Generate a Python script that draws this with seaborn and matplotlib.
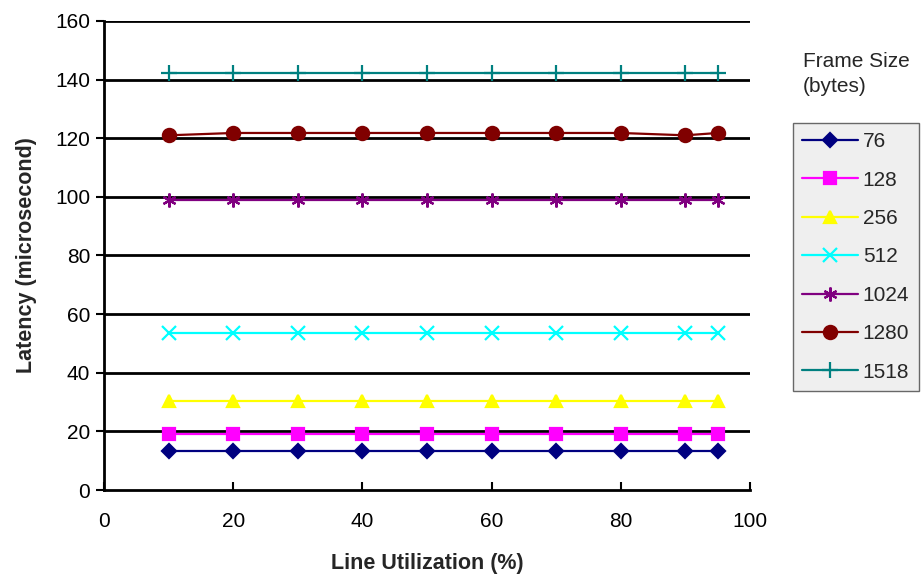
import matplotlib
matplotlib.use("Agg")
import matplotlib.pyplot as plt
import seaborn as sns
import pandas as pd

# Line utilization (%) at which latency was measured
utilization = [10, 20, 30, 40, 50, 60, 70, 80, 90, 95]

# Frame sizes (bytes) and measured latency (microseconds)
frame_sizes = ["76", "128", "256", "512", "1024", "1280", "1518"]
lat_76 = [13.4, 13.4, 13.4, 13.4, 13.4, 13.4, 13.4, 13.4, 13.4, 13.4]
lat_128 = [19.1, 19.1, 19.1, 19.1, 19.1, 19.1, 19.1, 19.1, 19.1, 19.1]
lat_256 = [30.4, 30.4, 30.4, 30.4, 30.4, 30.4, 30.4, 30.4, 30.4, 30.4]
lat_512 = [53.7, 53.7, 53.7, 53.7, 53.7, 53.7, 53.7, 53.7, 53.7, 53.7]
lat_1024 = [98.8, 98.8, 98.8, 98.8, 98.8, 98.8, 98.8, 98.8, 98.8, 98.8]
lat_1280 = [121.0, 121.8, 121.8, 121.8, 121.8, 121.8, 121.8, 121.8, 121.0, 121.8]
lat_1518 = [142.2, 142.2, 142.2, 142.2, 142.2, 142.2, 142.2, 142.2, 142.2, 142.2]

series = [lat_76, lat_128, lat_256, lat_512, lat_1024, lat_1280, lat_1518]

rows = []
for size, values in zip(frame_sizes, series):
    for u, v in zip(utilization, values):
        rows.append({"Line Utilization (%)": u, "Latency": v, "Frame Size": size})
df = pd.DataFrame(rows)

palette = {
    "76": "#000080",
    "128": "#FF00FF",
    "256": "#FFFF00",
    "512": "#00FFFF",
    "1024": "#800080",
    "1280": "#800000",
    "1518": "#008080",
}
markers = {
    "76": "D",
    "128": "s",
    "256": "^",
    "512": "x",
    "1024": (6, 2, 0),
    "1280": "o",
    "1518": "+",
}
sizes_pt = {"76": 7, "128": 9, "256": 9, "512": 10, "1024": 10, "1280": 9.5, "1518": 11}

sns.set_theme(style="white")
plt.rcParams["font.family"] = ["Liberation Sans", "DejaVu Sans"]

FS = 15

fig = plt.figure(figsize=(9.24, 5.77), dpi=100)
ax = fig.add_axes([104 / 924, 1 - 490 / 577, (750 - 104) / 924, (490 - 21) / 577])

for size in frame_sizes:
    sub = df[df["Frame Size"] == size]
    sns.lineplot(
        data=sub, x="Line Utilization (%)", y="Latency", ax=ax,
        color=palette[size], marker=markers[size], markersize=sizes_pt[size],
        markeredgecolor=palette[size], markerfacecolor=palette[size],
        markeredgewidth=1.6, linewidth=1.6, label=size, zorder=3,
    )

ax.set_xlim(0, 100)
ax.set_ylim(0, 160)
ax.set_xticks(range(0, 101, 20))
ax.set_yticks(range(0, 161, 20))

for y in range(20, 161, 20):
    ax.axhline(y, color="black", linewidth=2.0, zorder=1)

for side in ["top", "right"]:
    ax.spines[side].set_visible(False)
for side in ["left", "bottom"]:
    ax.spines[side].set_color("black")
    ax.spines[side].set_linewidth(2.0)

ax.tick_params(axis="y", direction="out", length=6, width=1.5, colors="black",
               labelsize=FS, left=True, pad=4)
ax.tick_params(axis="x", direction="in", length=6, width=1.5, colors="black",
               labelsize=FS, bottom=True, pad=16)

ax.set_xlabel("Line Utilization (%)", fontsize=15.5, fontweight="bold", labelpad=16)
ax.set_ylabel("Latency (microsecond)", fontsize=15.5, fontweight="bold", labelpad=13)

handles, labels = ax.get_legend_handles_labels()
ax.get_legend().remove()

leg = fig.legend(
    handles, labels, loc="upper left",
    bbox_to_anchor=(793 / 924, 1 - 123 / 577), bbox_transform=fig.transFigure,
    fontsize=FS, frameon=True, fancybox=False, handlelength=2.65,
    handletextpad=0.25, labelspacing=0.93, borderpad=0.45, borderaxespad=0,
)
leg.get_frame().set_facecolor("#EBEBEB")
leg.get_frame().set_edgecolor("#444444")
leg.get_frame().set_linewidth(1.0)

fig.text(803 / 924, 1 - 52 / 577, "Frame Size\n(bytes)", fontsize=FS,
         ha="left", va="top", linespacing=1.4)

fig.savefig("out.png", dpi=100)
